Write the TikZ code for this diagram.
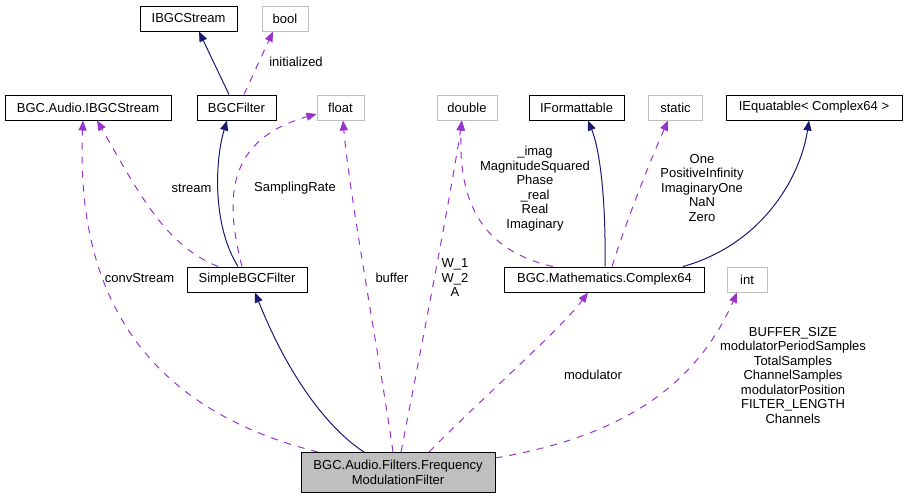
\documentclass[tikz,border=0pt]{standalone}
\usepackage{fontspec}
\setmainfont{Liberation Sans}
\usetikzlibrary{arrows.meta}
\definecolor{navy}{HTML}{191970}
\definecolor{orchid}{HTML}{9A32CD}
\definecolor{lgray}{HTML}{BFBFBF}
\begin{document}
\begin{tikzpicture}[x=1pt,y=-1pt,
 every node/.style={font=\fontsize{13}{14.5}\selectfont, inner sep=0pt},
 cls/.style={draw=black, fill=white, minimum height=25pt, line width=1pt},
 ext/.style={draw=lgray, fill=white, minimum height=25pt, line width=1pt},
 inh/.style={draw=navy, line width=1pt, -{Triangle[length=10pt,width=8pt]}},
 use/.style={draw=orchid, line width=1pt, dash pattern=on 7pt off 7pt, -{Triangle[length=10pt,width=8pt]}},
 lbl/.style={align=center}]
\useasboundingbox (0,0) rectangle (907,499);
% nodes
\node[cls, minimum width=97pt] (IBGC) at (188.5,18.5) {IBGCStream};
\node[ext, minimum width=46pt] (bool) at (285,18.5) {bool};
\node[cls, minimum width=166pt] (BAI) at (88,107.5) {BGC.Audio.IBGCStream};
\node[cls, minimum width=79pt] (BGCF) at (236.5,107.5) {BGCFilter};
\node[ext, minimum width=47pt] (float) at (340.5,107.5) {float};
\node[ext, minimum width=60pt] (double) at (467,107.5) {double};
\node[cls, minimum width=95pt] (IForm) at (576.5,107.5) {IFormattable};
\node[ext, minimum width=54pt] (static) at (675.5,107.5) {static};
\node[cls, minimum width=176pt] (IEq) at (814,107.5) {IEquatable< Complex64 >};
\node[cls, minimum width=120pt] (Simple) at (247,279.5) {SimpleBGCFilter};
\node[cls, minimum width=200pt] (Cplx) at (604.5,279.5) {BGC.Mathematics.Complex64};
\node[ext, minimum width=40pt] (int) at (747,279.5) {int};
\node[cls, fill=lgray, minimum width=194pt, minimum height=40pt, align=center] (FMF) at (398,472.5) {BGC.Audio.Filters.Frequency\\ModulationFilter};
% edges
\draw[inh] ([xshift=-7.5pt]BGCF.north) -- ([xshift=10.5pt]IBGC.south);
\draw[use] ([xshift=7.5pt]BGCF.north) -- ([xshift=-12pt]bool.south);
\draw[inh] ([xshift=-9pt]Simple.north) .. controls (212,225) and (215,160) .. ([xshift=-9.5pt]BGCF.south);
\draw[use] ([xshift=-29pt]Simple.north) .. controls (165,245) and (140,195) .. ([xshift=9pt]BAI.south);
\draw[use] ([xshift=-5pt]Simple.north) .. controls (225,200) and (225,140) .. ([yshift=-6.5pt]float.west);
\draw[use] ([xshift=-80pt]FMF.north) .. controls (150,410) and (75,300) .. ([xshift=-5pt]BAI.south);
\draw[inh] ([xshift=-34pt]FMF.north) .. controls (330,430) and (290,380) .. ([xshift=8pt]Simple.south);
\draw[use] ([xshift=-5pt]FMF.north) .. controls (380,360) and (350,200) .. ([xshift=2.5pt]float.south);
\draw[use] ([xshift=3pt]FMF.north) .. controls (415,380) and (450,200) .. ([xshift=-5pt]double.south);
\draw[use] ([xshift=-51.5pt]Cplx.north) .. controls (480,250) and (458,200) .. ([xshift=-5.5pt]double.south);
\draw[inh] ([xshift=0.5pt]Cplx.north) .. controls (606,200) and (600,150) .. ([xshift=11.5pt]IForm.south);
\draw[use] ([xshift=7.5pt]Cplx.north) .. controls (630,210) and (655,150) .. ([xshift=-7.5pt]static.south);
\draw[inh] ([xshift=78.5pt]Cplx.north) .. controls (760,245) and (800,180) .. ([xshift=-5pt]IEq.south);
\draw[use] ([xshift=31pt]FMF.north) .. controls (480,400) and (560,330) .. ([xshift=-16.5pt]Cplx.south);
\draw[use] ([yshift=14.5pt]FMF.east) .. controls (600,440) and (690,400) .. ([xshift=-10pt]int.south);
% labels
\node[lbl] (l1) at (296,62) {initialized};
\node[lbl] (l2) at (191.5,188) {stream};
\node[lbl] (l3) at (295,188) {SamplingRate};
\node[lbl] (l4) at (139.5,278) {convStream};
\node[lbl] (l5) at (392,278) {buffer};
\node[lbl] (l6) at (455,278) {W\_1\\W\_2\\A};
\node[lbl] (l7) at (535,188.5) {\_imag\\MagnitudeSquared\\Phase\\\_real\\Real\\Imaginary};
\node[lbl] (l8) at (702,188) {One\\PositiveInfinity\\ImaginaryOne\\NaN\\Zero};
\node[lbl] (l9) at (593,375) {modulator};
\node[lbl] (l10) at (793,375.5) {BUFFER\_SIZE\\modulatorPeriodSamples\\TotalSamples\\ChannelSamples\\modulatorPosition\\FILTER\_LENGTH\\Channels};
\end{tikzpicture}
\end{document}
